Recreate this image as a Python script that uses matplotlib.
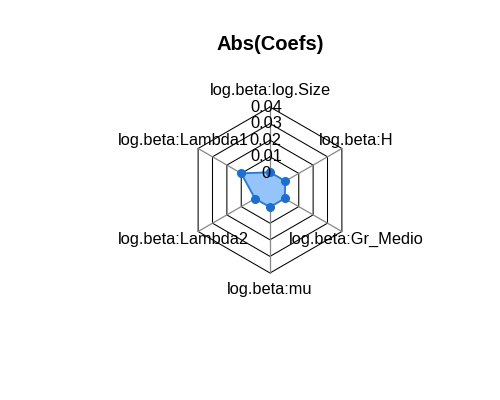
import numpy as np
import matplotlib
matplotlib.use("Agg")
import matplotlib.pyplot as plt

plt.rcParams["font.family"] = ["Liberation Sans", "DejaVu Sans"]

# variables in drawing order (top, then counter-clockwise)
labels = [
    "log.beta:log.Size",
    "log.beta:Lambda1",
    "log.beta:Lambda2",
    "log.beta:mu",
    "log.beta:Gr_Medio",
    "log.beta:H",
]
values = [0.0007, 0.0100, 0.0004, 0.0003, 0.0002, 0.0007]
axis_ticks = ["0", "0.01", "0.02", "0.03", "0.04"]
vmin, vmax = 0.0, 0.04
seg = 4

# figure geometry (pixels)
W, H = 500, 400
cx, cy, R = 270, 190, 83

fig = plt.figure(figsize=(W / 100, H / 100), dpi=100)
ax = fig.add_axes([0, 0, 1, 1])
ax.set_xlim(-cx / R, (W - cx) / R)
ax.set_ylim(-(H - cy) / R, cy / R)
ax.axis("off")

n = len(labels)
ang = np.pi / 2 + np.arange(n) * 2 * np.pi / n
xx, yy = np.cos(ang), np.sin(ang)

# rings
for i in range(seg + 1):
    r = (i + 1) / (seg + 1)
    ax.plot(np.append(xx, xx[0]) * r, np.append(yy, yy[0]) * r,
            color="black", lw=0.75, zorder=1)
# spokes from inner ring outwards
for x, y in zip(xx, yy):
    ax.plot([x / (seg + 1), x], [y / (seg + 1), y],
            color="#888888", lw=0.9, zorder=1)

# data
r = (1 + (np.array(values) - vmin) / (vmax - vmin) * seg) / (seg + 1)
px, py = xx * r, yy * r
ax.fill(px, py, color="#94C4FA", zorder=2)
ax.plot(np.append(px, px[0]), np.append(py, py[0]),
        color="#2A78D6", lw=1.3, zorder=3)
ax.plot(px, py, "o", color="#1C6ED0", ms=5.5, zorder=4)

# axis tick labels
for i, t in enumerate(axis_ticks):
    ax.text(-0.05, (i + 1) / (seg + 1), t, ha="center", va="center",
            fontsize=11.8, color="black", zorder=5)

# variable labels
for lab, x, y in zip(labels, xx, yy):
    ax.text(1.2 * x, 1.2 * y, lab, ha="center", va="center",
            fontsize=11.8, zorder=5)

ax.text(0, (cy - 45) / R, "Abs(Coefs)", ha="center", va="center",
        fontsize=14.5, fontweight="bold")

fig.savefig("out.png", dpi=100)
